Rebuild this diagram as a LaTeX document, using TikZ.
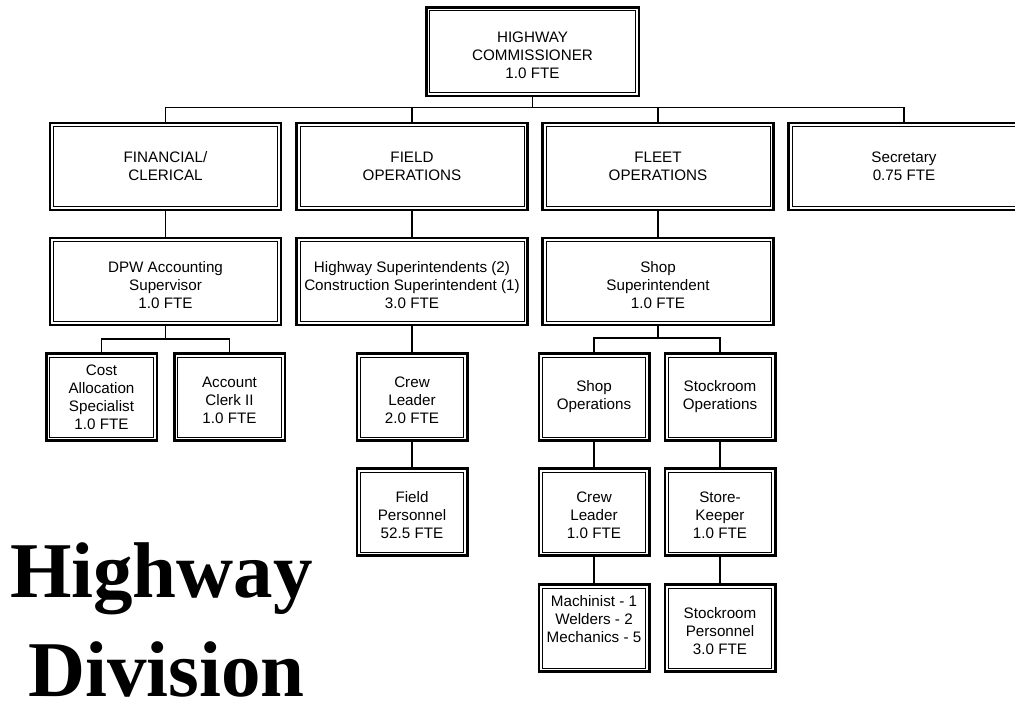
\documentclass[tikz,border=0pt]{standalone}
\usepackage{fontspec}
\setmainfont{Liberation Sans}
\newfontfamily\titlefont{Liberation Serif}
\newcommand*{\boxfont}{\fontsize{15.2}{18}\selectfont}
\usepackage{tikz}
\usetikzlibrary{positioning}
\tikzstyle{base}=[x=1pt, y=-1pt, inner sep=0pt, outer sep=0pt]
\tikzstyle{post}=[draw=black, line width=2.5pt, fill=white, align=center, font=\boxfont,
  path picture={\draw[line width=0.8pt] ([shift={(3.4pt,3.4pt)}]path picture bounding box.south west)
    rectangle ([shift={(-3.4pt,-3.4pt)}]path picture bounding box.north east);}]
\tikzstyle{wide}=[post, minimum width=231pt, minimum height=87pt]
\tikzstyle{small}=[post, minimum width=110.5pt, minimum height=87pt]
\tikzstyle{link}=[line width=1.2pt]
\tikzstyle{title}=[font=\titlefont\bfseries\fontsize{79}{79}\selectfont, anchor=base west, text depth=0pt]

\begin{document}
\begin{tikzpicture}[base]
    \useasboundingbox (0,0) rectangle (1015,713);
        \node [post, minimum width=212.5pt, minimum height=88.5pt] (comm) at (532.5,51.5) {\mbox{}\\HIGHWAY\\COMMISSIONER\\1.0 FTE};
        \node [wide] (fin) at (165.5,166.5) {FINANCIAL/\\CLERICAL};
        \node [wide] (fieldops) at (412,166.5) {FIELD\\OPERATIONS};
        \node [wide] (fleetops) at (658,166.5) {FLEET\\OPERATIONS};
        \node [wide] (sec) at (904,166.5) {Secretary\\0.75 FTE};
        \node [wide] (dpw) at (165.5,281.5) {\mbox{}\\DPW Accounting\\Supervisor\\1.0 FTE};
        \node [wide] (hwysup) at (412,281.5) {\mbox{}\\Highway Superintendents (2)\\Construction Superintendent (1)\\3.0 FTE};
        \node [wide] (shopsup) at (658,281.5) {\mbox{}\\Shop\\Superintendent\\1.0 FTE};
        \node [small] (cost) at (101.5,397) {Cost\\Allocation\\Specialist\\1.0 FTE};
        \node [small] (clerk) at (229.5,397) {\mbox{}\\Account\\Clerk II\\1.0 FTE};
        \node [small] (crewA) at (412,397) {\mbox{}\\Crew\\Leader\\2.0 FTE};
        \node [small] (fieldpers) at (412,512) {\mbox{}\\Field\\Personnel\\52.5 FTE};
        \node [small] (shopops) at (594,397) {Shop\\Operations};
        \node [small] (stockops) at (720,397) {Stockroom\\Operations};
        \node [small] (crewB) at (594,512) {\mbox{}\\Crew\\Leader\\1.0 FTE};
        \node [small] (keeper) at (720,512) {\mbox{}\\Store-\\Keeper\\1.0 FTE};
        \node [small] (mach) at (594,628) {Machinist - 1\\Welders - 2\\Mechanics - 5\\\mbox{}};
        \node [small] (stockpers) at (720,628) {\mbox{}\\Stockroom\\Personnel\\3.0 FTE};
        \node [title] (ttlA) at (10,597) {Highway};
        \node [title] (ttlB) at (28,696) {Division};
        \foreach \kid in {fin, fieldops, fleetops, sec}
            \draw [link] (comm.south) -- ++(0,12) -| (\kid.north);
        \foreach \kid in {cost, clerk}
            \draw [link] (dpw.south) -- ++(0,14) -| (\kid.north);
        \foreach \kid in {shopops, stockops}
            \draw [link] (shopsup.south) -- ++(0,13) -| (\kid.north);
        \draw [link] (fin) -- (dpw);
        \draw [link] (fieldops) -- (hwysup);
        \draw [link] (fleetops) -- (shopsup);
        \draw [link] (hwysup) -- (crewA);
        \draw [link] (crewA) -- (fieldpers);
        \draw [link] (shopops) -- (crewB);
        \draw [link] (crewB) -- (mach);
        \draw [link] (stockops) -- (keeper);
        \draw [link] (keeper) -- (stockpers);
    \end{tikzpicture}
\end{document}
